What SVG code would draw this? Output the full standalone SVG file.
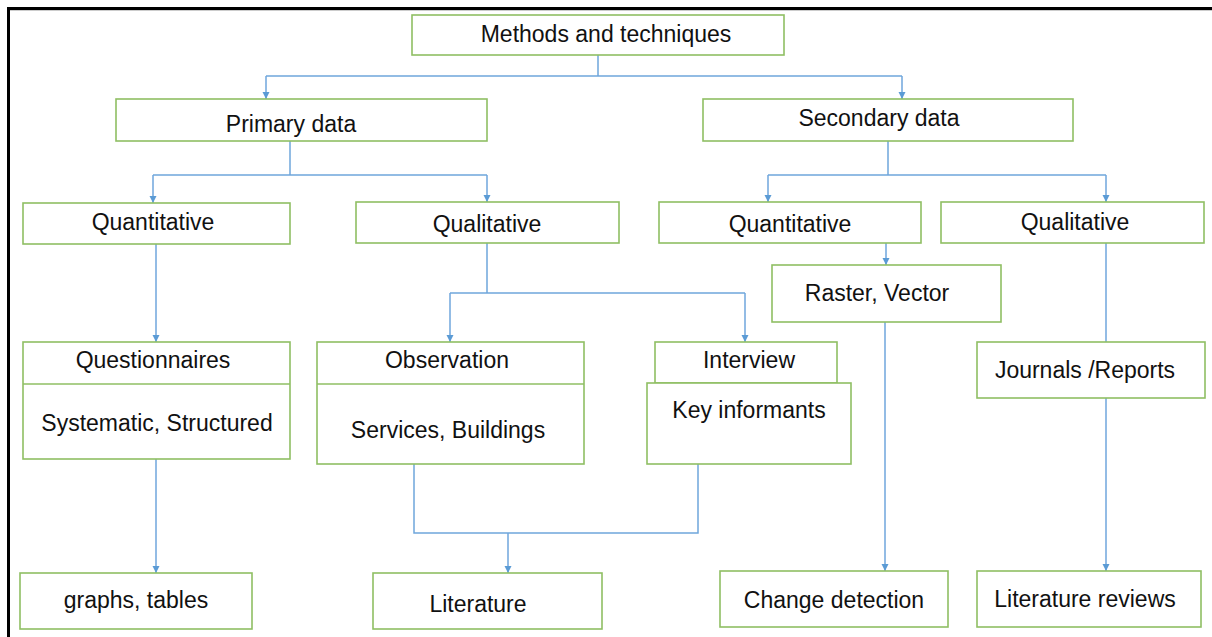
<svg xmlns="http://www.w3.org/2000/svg" width="1212" height="637" viewBox="0 0 1212 637">
<style>
.box{fill:#fff;stroke:#8fbf63;stroke-width:1.6}
.ln{fill:none;stroke:#6fa6dc;stroke-width:1.5}
.t{font-family:"Liberation Sans",Arial,sans-serif;font-size:23px;fill:#111;text-anchor:middle}
</style>
<defs>
<marker id="ah" viewBox="0 0 10 10" refX="10" refY="5" markerWidth="7" markerHeight="8" markerUnits="userSpaceOnUse" orient="auto">
<path d="M0,0 L10,5 L0,10 z" fill="#5b9bd5"/>
</marker>
</defs>
<rect x="0" y="0" width="1212" height="637" fill="#fff"/>
<path d="M8.5,1000 V8.5 H1300" fill="none" stroke="#000" stroke-width="3"/>
<path d="M10,10.5 H1212" fill="none" stroke="#ccc" stroke-width="1"/>
<g id="connectors">
<path class="ln" d="M598,55 V76 M266,76 H902"/>
<path class="ln" d="M266,76 V99" marker-end="url(#ah)"/>
<path class="ln" d="M902,76 V99" marker-end="url(#ah)"/>
<path class="ln" d="M290,141 V175 M153,175 H487"/>
<path class="ln" d="M153,175 V203" marker-end="url(#ah)"/>
<path class="ln" d="M487,175 V202" marker-end="url(#ah)"/>
<path class="ln" d="M888,141 V175 M768,175 H1106"/>
<path class="ln" d="M768,175 V202" marker-end="url(#ah)"/>
<path class="ln" d="M1106,175 V202" marker-end="url(#ah)"/>
<path class="ln" d="M156,244 V342" marker-end="url(#ah)"/>
<path class="ln" d="M156,459 V573" marker-end="url(#ah)"/>
<path class="ln" d="M487,243 V293 M450,293 H745"/>
<path class="ln" d="M450,293 V342" marker-end="url(#ah)"/>
<path class="ln" d="M745,293 V342" marker-end="url(#ah)"/>
<path class="ln" d="M414,464 V533 H698 V464"/>
<path class="ln" d="M508,533 V573" marker-end="url(#ah)"/>
<path class="ln" d="M886,243 V265" marker-end="url(#ah)"/>
<path class="ln" d="M885,322 V571" marker-end="url(#ah)"/>
<path class="ln" d="M1106,243 V342"/>
<path class="ln" d="M1106,398 V571" marker-end="url(#ah)"/>
</g>
<g id="methods"><rect class="box" x="412" y="15" width="372" height="40"/><text class="t" x="606" y="42">Methods and techniques</text></g>
<g id="primary"><rect class="box" x="116" y="99" width="371" height="42"/><text class="t" x="291" y="132">Primary data</text></g>
<g id="secondary"><rect class="box" x="703" y="99" width="370" height="42"/><text class="t" x="879" y="126">Secondary data</text></g>
<g id="quant-p"><rect class="box" x="23" y="203" width="267" height="41"/><text class="t" x="153" y="230">Quantitative</text></g>
<g id="qual-p"><rect class="box" x="356" y="202" width="263" height="41"/><text class="t" x="487" y="232">Qualitative</text></g>
<g id="quant-s"><rect class="box" x="659" y="202" width="262" height="41"/><text class="t" x="790" y="232">Quantitative</text></g>
<g id="qual-s"><rect class="box" x="941" y="202" width="263" height="41"/><text class="t" x="1075" y="230">Qualitative</text></g>
<g id="questionnaires"><rect class="box" x="23" y="342" width="267" height="117"/><line class="box" x1="23" y1="384" x2="290" y2="384"/><text class="t" x="153" y="368">Questionnaires</text><text class="t" x="157" y="431">Systematic, Structured</text></g>
<g id="observation"><rect class="box" x="317" y="342" width="267" height="122"/><line class="box" x1="317" y1="384" x2="584" y2="384"/><text class="t" x="447" y="368">Observation</text><text class="t" x="448" y="438">Services, Buildings</text></g>
<g id="interview"><rect class="box" x="655" y="342" width="182" height="41"/><text class="t" x="749" y="368">Interview</text></g>
<g id="key-informants"><rect class="box" x="647" y="383" width="204" height="81"/><text class="t" x="749" y="418">Key informants</text></g>
<g id="raster"><rect class="box" x="772" y="265" width="229" height="57"/><text class="t" x="877" y="301">Raster, Vector</text></g>
<g id="journals"><rect class="box" x="977" y="342" width="228" height="56"/><text class="t" x="1085" y="378">Journals /Reports</text></g>
<g id="graphs"><rect class="box" x="20" y="573" width="232" height="56"/><text class="t" x="136" y="608">graphs, tables</text></g>
<g id="literature"><rect class="box" x="373" y="573" width="229" height="56"/><text class="t" x="478" y="612">Literature</text></g>
<g id="change"><rect class="box" x="720" y="571" width="228" height="56"/><text class="t" x="834" y="608">Change detection</text></g>
<g id="lit-reviews"><rect class="box" x="977" y="571" width="224" height="56"/><text class="t" x="1085" y="607">Literature reviews</text></g>
</svg>
